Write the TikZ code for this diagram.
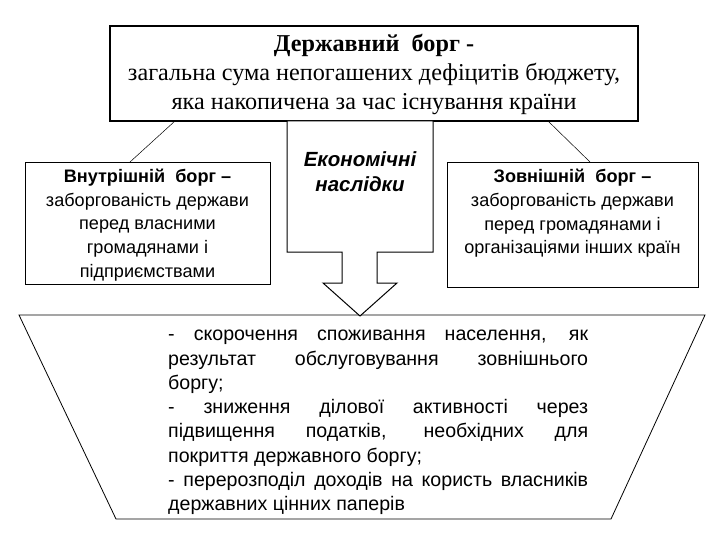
\documentclass[tikz,border=0pt]{standalone}
\usepackage{fontspec}
\setmainfont{Liberation Serif}
\setsansfont{Liberation Sans}
\begin{document}
\begin{tikzpicture}[x=1pt,y=-1pt,
  thinline/.style={draw=black,line width=0.8pt},
  boxstyle/.style={draw=black,line width=0.9pt,fill=white,inner sep=0pt},
  sidetext/.style={align=center,font=\sffamily\fontsize{18.1}{23.6}\selectfont,inner sep=0pt}]
\useasboundingbox (0,0) rectangle (720,540);
\fill[white] (0,0) rectangle (720,540);

% connector lines
\coordinate (tl) at (175,121);
\coordinate (tr) at (548,121);
\coordinate (ll) at (130,162);
\coordinate (rr) at (590,162);
\draw[thinline,line width=0.5pt] (tl) -- (ll);
\draw[thinline,line width=0.5pt] (tr) -- (rr);

% top box
\node[boxstyle,line width=2pt,minimum width=528pt,minimum height=95pt] (top) at (374,73.5) {};
\node[align=center,font=\fontsize{24.2}{29}\selectfont,inner sep=0pt] (toptext) at (374,74)
 {\textbf{Державний\ \ борг -}\\загальна сума непогашених дефіцитів бюджету,\\яка накопичена за час існування країни};

% left box
\node[boxstyle,minimum width=245pt,minimum height=122pt] (left) at (147.5,223) {};
\node[sidetext] (lefttext) at (147.5,225)
 {\textbf{Внутрішній\ \ борг –}\\заборгованість держави\\перед власними\\громадянами і\\підприємствами};

% right box
\node[boxstyle,minimum width=251pt,minimum height=125pt] (right) at (572.5,224.5) {};
\node[sidetext] (righttext) at (572.5,213.5)
 {\textbf{Зовнішній\ \ борг –}\\заборгованість держави\\перед громадянами і\\організаціями інших країн};

% trapezoid
\coordinate (z1) at (19,315);
\coordinate (z2) at (705,315);
\coordinate (z3) at (611,519);
\coordinate (z4) at (116,519);
\draw[thinline] (z1) -- (z2) -- (z3) -- (z4) -- cycle;
\node[anchor=north west,inner sep=0pt,font=\sffamily\fontsize{19.6}{24.3}\selectfont] (list) at (168,330)
 {\parbox[t]{420pt}{\parindent=0pt\tolerance=10000\hyphenpenalty=10000\hbadness=10000
 - скорочення споживання населення, як\linebreak
 результат обслуговування зовнішнього\linebreak
 боргу;\\
 - зниження ділової активності через\linebreak
 підвищення податків, необхідних для\linebreak
 покриття державного боргу;\\
 - перерозподіл доходів на користь власників\linebreak
 державних цінних паперів}};

% middle block arrow
\coordinate (a1) at (287,121);
\coordinate (a2) at (433,121);
\coordinate (a3) at (433,252);
\coordinate (a4) at (377,252);
\coordinate (a5) at (377,283);
\coordinate (a6) at (397,283);
\coordinate (tip) at (360,316);
\coordinate (a8) at (323,283);
\coordinate (a9) at (342,283);
\coordinate (a10) at (342,252);
\coordinate (a11) at (287,252);
\draw[thinline,fill=white,line width=1pt] (a1) -- (a2) -- (a3) -- (a4) -- (a5) -- (a6) -- (tip) -- (a8) -- (a9) -- (a10) -- (a11) -- cycle;
\node[align=center,font=\sffamily\bfseries\itshape\fontsize{20.5}{25}\selectfont,inner sep=0pt] (mid) at (360,172)
 {Економічні\\наслідки};
\end{tikzpicture}
\end{document}
